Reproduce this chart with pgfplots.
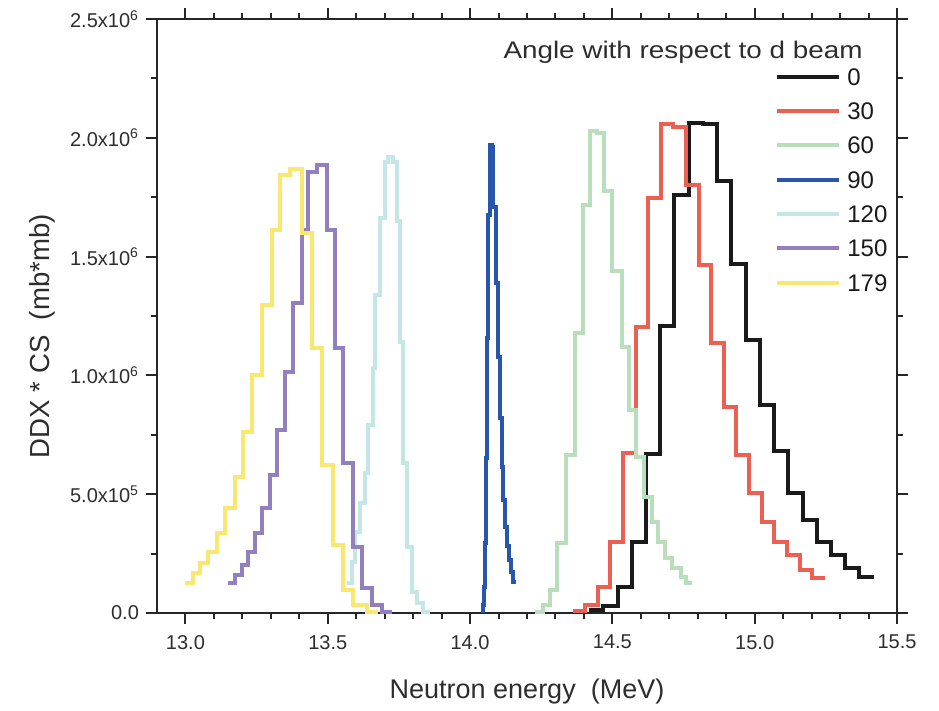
\documentclass[border=0pt]{standalone}
\usepackage{fontspec}
\setmainfont{Liberation Sans}
\newfontfamily\titlefont[FakeStretch=1.16]{Liberation Sans}
\usepackage{pgfplots}
\pgfplotsset{compat=1.18}

\definecolor{txt}{RGB}{45,45,45}
\definecolor{c0}{RGB}{26,26,26}
\definecolor{c30}{RGB}{236,96,84}
\definecolor{c60}{RGB}{185,222,188}
\definecolor{c90}{RGB}{40,86,172}
\definecolor{c120}{RGB}{196,230,230}
\definecolor{c150}{RGB}{146,128,190}
\definecolor{c179}{RGB}{248,232,112}

\begin{document}
\begin{tikzpicture}
\begin{axis}[
  scale only axis,
  width=370pt, height=297pt,
  xmin=12.9, xmax=15.5,
  ymin=0, ymax=2500000,
  xtick={13,13.5,14,14.5,15,15.5},
  xticklabels={13.0,13.5,14.0,14.5,15.0,15.5},
  minor x tick num=4,
  ytick={0,500000,1000000,1500000,2000000,2500000},
  yticklabels={0.0,5.0x10\textsuperscript{5},1.0x10\textsuperscript{6},1.5x10\textsuperscript{6},2.0x10\textsuperscript{6},2.5x10\textsuperscript{6}},
  minor y tick num=1,
  scaled y ticks=false,
  tick align=outside, tick pos=both,
  major tick length=5.5pt, minor tick length=3pt,
  axis line style={line width=1pt, black!85},
  every tick/.style={line width=1pt, black!85},
  tick label style={font=\fontsize{10}{12}\selectfont, text=txt},
  xticklabel style={yshift=-2pt},
  xlabel={Neutron energy\ \ (MeV)},
  ylabel={DDX * CS\ \ (mb*mb)},
  xlabel style={at={(axis description cs:0.5,-0.132)}, anchor=center, font=\fontsize{13.5}{16}\selectfont, text=txt},
  ylabel style={at={(axis description cs:-0.1554,0.466)}, anchor=center, font=\fontsize{13.8}{16}\selectfont, text=txt},
  legend image code/.code={\draw[#1, line width=2pt] (0pt,0pt) -- (31pt,0pt);},
  legend style={at={(0.835,0.918)}, anchor=north west, draw=none, fill=none,
    inner sep=0pt, row sep=8.55pt, font=\fontsize{12}{14}\selectfont,
    nodes={inner xsep=3pt, inner ysep=0pt, text height=8.6pt, text depth=0pt, text=black!90}},
  legend cell align=left,
  clip=false,
]
% 0 deg
\addplot[const plot, color=c0, line width=2pt] table[row sep=crcr]{
14.418 13000\\
14.468 30000\\
14.518 110000\\
14.568 300000\\
14.618 670000\\
14.668 1210000\\
14.718 1760000\\
14.768 2064000\\
14.818 2058000\\
14.868 1820000\\
14.918 1470000\\
14.968 1150000\\
15.018 875000\\
15.068 680000\\
15.118 505000\\
15.168 390000\\
15.218 300000\\
15.268 245000\\
15.318 190000\\
15.368 150000\\
15.418 150000\\
};
\addlegendentry{0}
% 30 deg
\addplot[const plot, color=c30, line width=2pt] table[row sep=crcr]{
14.360 8000\\
14.404 34000\\
14.449 109000\\
14.493 299000\\
14.537 673000\\
14.582 1204000\\
14.626 1747000\\
14.670 2058000\\
14.714 2045000\\
14.759 1801000\\
14.803 1465000\\
14.847 1136000\\
14.892 867000\\
14.936 665000\\
14.980 505000\\
15.025 383000\\
15.069 299000\\
15.113 244000\\
15.158 181000\\
15.202 147000\\
15.246 147000\\
};
\addlegendentry{30}
% 60 deg
\addplot[const plot, color=c60, line width=2pt] table[row sep=crcr]{
14.228 4000\\
14.256 34000\\
14.281 97000\\
14.305 295000\\
14.337 665000\\
14.369 1180000\\
14.397 1717000\\
14.421 2030000\\
14.446 2020000\\
14.471 1776000\\
14.499 1440000\\
14.532 1120000\\
14.557 855000\\
14.582 657000\\
14.610 488000\\
14.638 383000\\
14.660 299000\\
14.685 232000\\
14.710 190000\\
14.740 150000\\
14.760 126000\\
14.780 126000\\
};
\addlegendentry{60}
% 90 deg
\addplot[const plot, color=c90, line width=2pt] table[row sep=crcr]{
14.040 10000\\
14.045 34000\\
14.050 109000\\
14.054 295000\\
14.057 652000\\
14.060 1157000\\
14.064 1675000\\
14.069 1970000\\
14.076 1960000\\
14.082 1709000\\
14.091 1389000\\
14.099 1077000\\
14.105 821000\\
14.111 614000\\
14.115 476000\\
14.123 362000\\
14.130 280000\\
14.137 223000\\
14.144 173000\\
14.152 130000\\
14.160 130000\\
};
\addlegendentry{90}
% 120 deg
\addplot[const plot, color=c120, line width=2pt] table[row sep=crcr]{
13.567 126000\\
13.584 215000\\
13.596 340000\\
13.613 463000\\
13.631 589000\\
13.642 791000\\
13.658 1031000\\
13.666 1338000\\
13.684 1662000\\
13.701 1898000\\
13.713 1919000\\
13.730 1900000\\
13.742 1650000\\
13.754 1140000\\
13.765 630000\\
13.777 278000\\
13.795 88000\\
13.812 42000\\
13.836 4000\\
13.859 4000\\
};
\addlegendentry{120}
% 150 deg
\addplot[const plot, color=c150, line width=2pt] table[row sep=crcr]{
13.151 125000\\
13.174 160000\\
13.198 202000\\
13.221 258000\\
13.244 335000\\
13.268 440000\\
13.297 581000\\
13.321 770000\\
13.350 1016000\\
13.379 1303000\\
13.408 1612000\\
13.432 1857000\\
13.461 1886000\\
13.496 1612000\\
13.525 1114000\\
13.555 630000\\
13.590 279000\\
13.619 104000\\
13.654 34000\\
13.690 6000\\
13.725 6000\\
};
\addlegendentry{150}
% 179 deg
\addplot[const plot, color=c179, line width=2pt] table[row sep=crcr]{
12.998 125000\\
13.028 167000\\
13.051 209000\\
13.080 258000\\
13.110 335000\\
13.139 440000\\
13.174 574000\\
13.203 763000\\
13.233 1002000\\
13.268 1296000\\
13.303 1612000\\
13.332 1843000\\
13.367 1867000\\
13.408 1598000\\
13.444 1114000\\
13.479 623000\\
13.519 286000\\
13.555 97000\\
13.590 34000\\
13.637 6000\\
13.678 6000\\
};
\addlegendentry{179}
\node[anchor=base east, font=\titlefont\fontsize{12}{14}\selectfont, text=txt, inner sep=0pt]
  at (rel axis cs:0.954,0.934) {Angle with respect to d beam};
\end{axis}
\path ([shift={(-78.5pt,-46pt)}]current axis.south west) rectangle ([shift={(21pt,9.5pt)}]current axis.north east);
\end{tikzpicture}
\end{document}
